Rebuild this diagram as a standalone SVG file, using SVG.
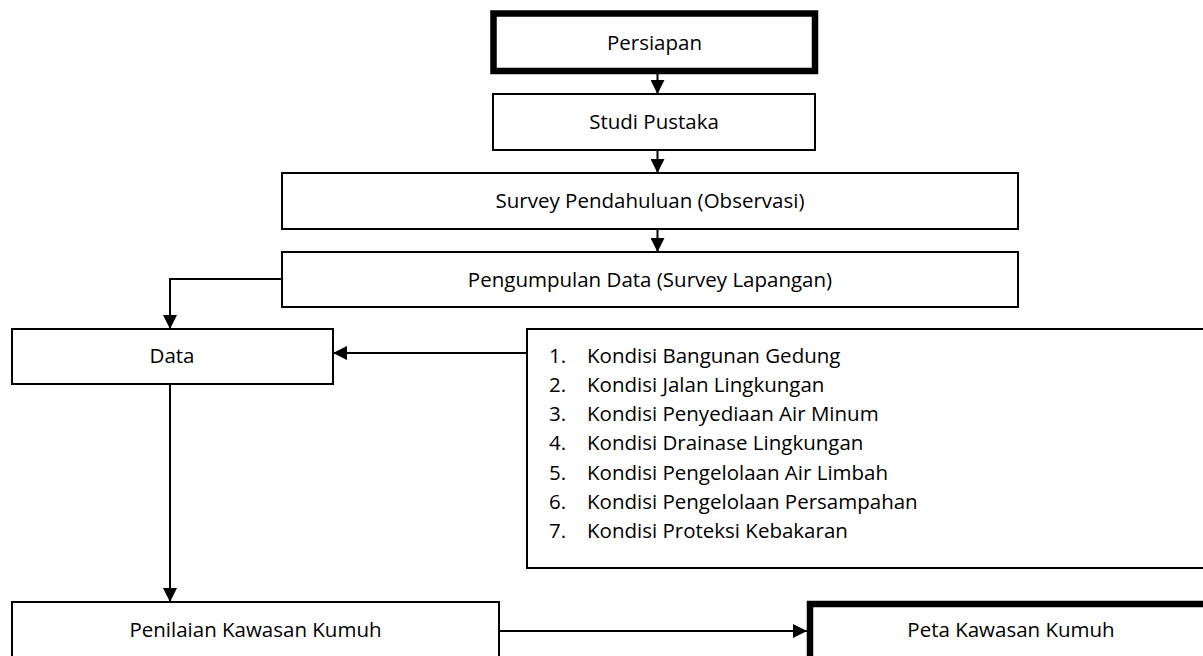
<svg xmlns="http://www.w3.org/2000/svg" width="1203" height="656" viewBox="0 0 1203 656">
<defs>
<style>
.box{fill:#fff;stroke:#000;stroke-width:2}
.thick{fill:#fff;stroke:#000;stroke-width:6.5}
.lbl{font-family:"Open Sans","Liberation Sans",sans-serif;font-size:20.5px;fill:#000;text-anchor:middle}
.li{font-family:"Open Sans","Liberation Sans",sans-serif;font-size:20.5px;fill:#000}
.conn{fill:none;stroke:#000;stroke-width:2}
</style>
<marker id="arr" viewBox="0 0 14 14" refX="14" refY="7" markerWidth="14" markerHeight="14" markerUnits="userSpaceOnUse" orient="auto">
<path d="M0,0 L14,7 L0,14 z" fill="#000"/>
</marker>
</defs>
<rect width="1203" height="656" fill="#fff"/>
<g id="connectors">
<line class="conn" x1="657.5" y1="74" x2="657.5" y2="94" marker-end="url(#arr)"/>
<line class="conn" x1="657.5" y1="150" x2="657.5" y2="173" marker-end="url(#arr)"/>
<line class="conn" x1="657.5" y1="229" x2="657.5" y2="252" marker-end="url(#arr)"/>
<polyline class="conn" points="282,279 170,279 170,329" marker-end="url(#arr)"/>
<line class="conn" x1="527" y1="353" x2="333" y2="353" marker-end="url(#arr)"/>
<line class="conn" x1="170" y1="384" x2="170" y2="602" marker-end="url(#arr)"/>
<line class="conn" x1="499" y1="631" x2="807" y2="631" marker-end="url(#arr)"/>
</g>
<g id="persiapan">
<rect class="thick" x="493.5" y="13.5" width="321.5" height="57.5"/>
<text class="lbl" x="654.5" y="50">Persiapan</text>
</g>
<g id="studi-pustaka">
<rect class="box" x="493" y="94" width="322" height="56"/>
<text class="lbl" x="654" y="129">Studi Pustaka</text>
</g>
<g id="survey-pendahuluan">
<rect class="box" x="282" y="173" width="736" height="56"/>
<text class="lbl" x="650" y="208">Survey Pendahuluan (Observasi)</text>
</g>
<g id="pengumpulan-data">
<rect class="box" x="282" y="252" width="736" height="55"/>
<text class="lbl" x="650" y="287">Pengumpulan Data (Survey Lapangan)</text>
</g>
<g id="data">
<rect class="box" x="12" y="329" width="321" height="55"/>
<text class="lbl" x="172" y="363">Data</text>
</g>
<g id="daftar-kondisi">
<rect class="box" x="527" y="329" width="700" height="239"/>
<text class="li" x="549" y="363">1.</text><text class="li" x="587" y="363">Kondisi Bangunan Gedung</text>
<text class="li" x="549" y="392">2.</text><text class="li" x="587" y="392">Kondisi Jalan Lingkungan</text>
<text class="li" x="549" y="421">3.</text><text class="li" x="587" y="421">Kondisi Penyediaan Air Minum</text>
<text class="li" x="549" y="450">4.</text><text class="li" x="587" y="450">Kondisi Drainase Lingkungan</text>
<text class="li" x="549" y="480">5.</text><text class="li" x="587" y="480">Kondisi Pengelolaan Air Limbah</text>
<text class="li" x="549" y="509">6.</text><text class="li" x="587" y="509">Kondisi Pengelolaan Persampahan</text>
<text class="li" x="549" y="538">7.</text><text class="li" x="587" y="538">Kondisi Proteksi Kebakaran</text>
</g>
<g id="penilaian">
<rect class="box" x="12" y="602" width="487" height="70"/>
<text class="lbl" x="255.5" y="637">Penilaian Kawasan Kumuh</text>
</g>
<g id="peta">
<rect class="thick" x="810" y="604" width="420" height="70"/>
<text class="lbl" x="1011" y="637">Peta Kawasan Kumuh</text>
</g>
</svg>
